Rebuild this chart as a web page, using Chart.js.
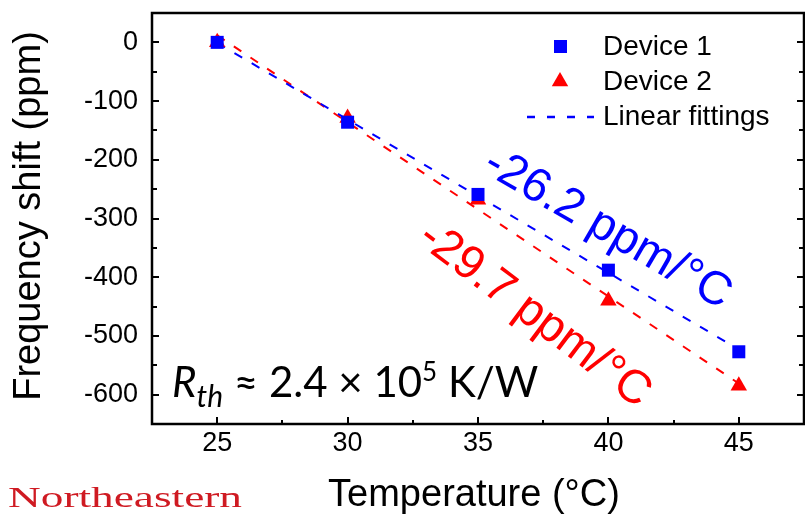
<!DOCTYPE html>
<html>
<head>
<meta charset="utf-8">
<script src="https://cdn.jsdelivr.net/npm/chart.js@4"></script>
<style>
  body { margin: 0; background: #fff; }
  canvas { display: block; }
</style>
</head>
<body>
<canvas id="tempChart" width="805" height="515"></canvas>
<script>
// measured points
const temps = [25, 30, 35, 40, 45];
const device1 = [0, -136, -259, -388, -527];
const device2 = [0, -129, -268, -440, -585];

// linear fit end points
const fitTemps = [25, 45];
const fit1 = [-1, -523];
const fit2 = [12, -581];

const xTicks = [25, 30, 35, 40, 45];
const xMinor = [27.5, 32.5, 37.5, 42.5];
const yTicks = [0, -100, -200, -300, -400, -500, -600];
const yMinor = [-50, -150, -250, -350, -450, -550];

const BLUE = '#0000ff';
const RED = '#ff0000';
const SANS = '"Liberation Sans", Arial, sans-serif';

const pts = (xs, ys) => xs.map((x, i) => ({ x: x, y: ys[i] }));

const noPad = s => { s.paddingLeft = 0; s.paddingRight = 0; s.paddingTop = 0; s.paddingBottom = 0; };

const extrasPlugin = {
    id: 'extras',
    afterDatasetsDraw(chart) {
        const ctx = chart.ctx;
        const a = chart.chartArea;
        const xs = chart.scales.x, ys = chart.scales.y;
        ctx.save();
        ctx.strokeStyle = '#000';
        ctx.lineWidth = 2.5;
        ctx.strokeRect(a.left, a.top, a.right - a.left, a.bottom - a.top);
        ctx.lineWidth = 2;
        ctx.beginPath();
        xTicks.concat(xMinor).forEach(v => {
            const len = xMinor.includes(v) ? 4 : 7;
            const px = Math.round(xs.getPixelForValue(v));
            ctx.moveTo(px, a.bottom); ctx.lineTo(px, a.bottom - len);
        });
        yTicks.concat(yMinor).forEach(v => {
            const len = yMinor.includes(v) ? 5 : 7;
            const py = Math.round(ys.getPixelForValue(v));
            ctx.moveTo(a.left, py); ctx.lineTo(a.left + len, py);
            ctx.moveTo(a.right, py); ctx.lineTo(a.right - len, py);
        });
        ctx.stroke();
        ctx.restore();
    },
    afterDraw(chart) {
        const ctx = chart.ctx;
        ctx.save();

        // legend
        ctx.fillStyle = BLUE;
        ctx.fillRect(554, 40, 13, 13);
        ctx.fillStyle = RED;
        ctx.beginPath();
        ctx.moveTo(560, 72); ctx.lineTo(568.2, 86.2); ctx.lineTo(551.8, 86.2);
        ctx.closePath(); ctx.fill();
        ctx.strokeStyle = BLUE;
        ctx.lineWidth = 2.5;
        ctx.setLineDash([8, 12]);
        ctx.beginPath(); ctx.moveTo(527, 117); ctx.lineTo(594, 117); ctx.stroke();
        ctx.setLineDash([]);
        ctx.fillStyle = '#000';
        ctx.font = '28px ' + SANS;
        ctx.textBaseline = 'middle';
        ctx.fillText('Device 1', 603, 47);
        ctx.fillText('Device 2', 603, 82);
        ctx.fillText('Linear fittings', 603, 117);

        // slopes
        ctx.textBaseline = 'alphabetic';
        ctx.font = '47px ' + SANS;
        ctx.save();
        ctx.translate(481, 171); ctx.rotate(30 * Math.PI / 180);
        ctx.fillStyle = BLUE;
        ctx.fillText('-26.2 ppm/°C', 0, 0);
        ctx.restore();
        ctx.save();
        ctx.translate(416, 242); ctx.rotate(37 * Math.PI / 180);
        ctx.fillStyle = RED;
        ctx.fillText('-29.7 ppm/°C', 0, 0);
        ctx.restore();

        // axis titles
        ctx.fillStyle = '#000';
        ctx.font = '38px ' + SANS;
        ctx.textAlign = 'center';
        ctx.fillText('Temperature (°C)', 474, 506);
        ctx.save();
        ctx.translate(40, 216); ctx.rotate(-Math.PI / 2);
        ctx.fillText('Frequency shift (ppm)', 0, 0);
        ctx.restore();

        // thermal resistance
        ctx.textAlign = 'left';
        const lato = '"Lato", "Open Sans", sans-serif';
        let x = 172;
        const base = 397;
        const parts = [
            ['R', 'italic 42px ' + lato, 0],
            ['th', 'italic 30px ' + lato, 10],
            [' ≈ 2.4 × 10', '42px ' + lato, 0],
            ['5', '26px ' + lato, -16],
            [' K/W', '42px ' + lato, 0]
        ];
        parts.forEach(p => {
            ctx.font = p[1];
            ctx.fillText(p[0], x, base + p[2]);
            x += ctx.measureText(p[0]).width;
        });

        // logo
        ctx.font = '30px "Liberation Serif", "Times New Roman", serif';
        ctx.fillStyle = '#cf1a22';
        const w = ctx.measureText('Northeastern').width;
        ctx.save();
        ctx.translate(8, 507); ctx.scale(234 / w, 1);
        ctx.fillText('Northeastern', 0, 0);
        ctx.restore();

        ctx.restore();
    }
};

new Chart(document.getElementById('tempChart'), {
    type: 'scatter',
    data: {
        datasets: [
            {
                label: 'Device 1',
                data: pts(temps, device1),
                pointStyle: 'rect',
                pointRadius: 9.2,
                backgroundColor: BLUE,
                borderWidth: 0
            },
            {
                label: 'Device 2',
                data: pts(temps, device2),
                pointStyle: 'triangle',
                pointRadius: 9.5,
                backgroundColor: RED,
                borderWidth: 0
            },
            {
                label: 'Linear fitting 1',
                data: pts(fitTemps, fit1),
                showLine: true,
                pointRadius: 0,
                borderColor: BLUE,
                borderWidth: 2,
                borderDash: [9, 11]
            },
            {
                label: 'Linear fitting 2',
                data: pts(fitTemps, fit2),
                showLine: true,
                pointRadius: 0,
                borderColor: RED,
                borderWidth: 2,
                borderDash: [9, 11]
            }
        ]
    },
    options: {
        responsive: false,
        animation: false,
        devicePixelRatio: 1,
        layout: { autoPadding: false, padding: { top: 13, right: 1, left: 0, bottom: 0 } },
        plugins: {
            legend: { display: false },
            tooltip: { enabled: false }
        },
        scales: {
            x: {
                type: 'linear',
                min: 22.5,
                max: 47.5,
                afterBuildTicks: s => { s.ticks = xTicks.map(v => ({ value: v })); },
                afterFit: s => { s.height = 91; noPad(s); },
                grid: { display: false, drawTicks: false },
                border: { display: false },
                ticks: { color: '#000', font: { family: SANS, size: 27 }, padding: 3, maxRotation: 0 }
            },
            y: {
                min: -650,
                max: 50,
                afterBuildTicks: s => { s.ticks = yTicks.map(v => ({ value: v })); },
                afterFit: s => { s.width = 152; noPad(s); },
                grid: { display: false, drawTicks: false },
                border: { display: false },
                ticks: { color: '#000', font: { family: SANS, size: 27 }, padding: 14 }
            }
        }
    },
    plugins: [extrasPlugin]
});
</script>
</body>
</html>
